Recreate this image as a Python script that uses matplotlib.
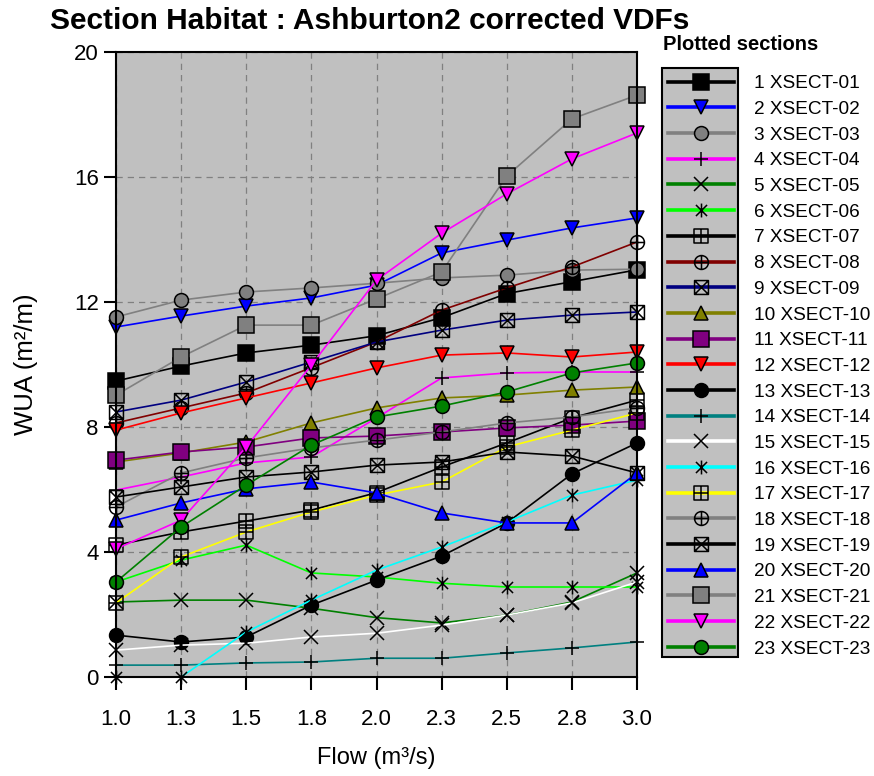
import matplotlib
matplotlib.use('Agg')
import matplotlib.pyplot as plt
from matplotlib.path import Path
from matplotlib.patches import Rectangle

plt.rcParams['font.family'] = ['Liberation Sans', 'DejaVu Sans']

# flows (m3/s) and the one-decimal labels shown on the axis
flow = [1.0, 1.25, 1.5, 1.75, 2.0, 2.25, 2.5, 2.75, 3.0]
flow_labels = ['1.0', '1.3', '1.5', '1.8', '2.0', '2.3', '2.5', '2.8', '3.0']

# weighted usable area (m2/m) per cross-section
xsect_01 = [9.47, 9.95, 10.37, 10.62, 10.92, 11.5, 12.27, 12.65, 13.03]
xsect_02 = [11.2, 11.55, 11.87, 12.13, 12.54, 13.57, 13.98, 14.37, 14.69]
xsect_03 = [11.52, 12.06, 12.32, 12.45, 12.6, 12.77, 12.86, 13.02, 13.05]
xsect_04 = [5.98, 6.4, 6.85, 7.04, 8.29, 9.57, 9.73, 9.76, 9.76]
xsect_05 = [2.4, 2.46, 2.46, 2.2, 1.9, 1.73, 1.98, 2.4, 3.33]
xsect_06 = [3.04, 3.74, 4.22, 3.33, 3.2, 3.0, 2.88, 2.88, 2.88]
xsect_07 = [4.22, 4.64, 4.99, 5.34, 5.9, 6.72, 7.49, 8.29, 8.86]
xsect_08 = [8.13, 8.61, 9.09, 9.9, 10.72, 11.74, 12.45, 13.12, 13.92]
xsect_09 = [8.48, 8.86, 9.44, 10.08, 10.72, 11.1, 11.42, 11.58, 11.68]
xsect_10 = [6.88, 7.17, 7.52, 8.13, 8.61, 8.93, 9.02, 9.18, 9.28]
xsect_11 = [6.94, 7.2, 7.36, 7.65, 7.71, 7.84, 7.97, 8.06, 8.19]
xsect_12 = [7.9, 8.45, 8.93, 9.41, 9.89, 10.3, 10.37, 10.24, 10.4]
xsect_13 = [1.34, 1.12, 1.28, 2.3, 3.1, 3.87, 4.93, 6.5, 7.49]
xsect_14 = [0.38, 0.38, 0.45, 0.48, 0.6, 0.6, 0.77, 0.93, 1.12]
xsect_15 = [0.86, 1.02, 1.08, 1.28, 1.4, 1.66, 1.98, 2.37, 3.04]
xsect_16 = [0.0, 0.0, 1.44, 2.46, 3.42, 4.16, 4.96, 5.82, 6.3]
xsect_17 = [2.37, 3.84, 4.64, 5.28, 5.82, 6.24, 7.36, 7.9, 8.45]
xsect_18 = [5.44, 6.53, 7.01, 7.33, 7.58, 7.84, 8.13, 8.32, 8.61]
xsect_19 = [5.76, 6.08, 6.4, 6.56, 6.78, 6.88, 7.2, 7.07, 6.53]
xsect_20 = [5.02, 5.57, 6.02, 6.24, 5.89, 5.25, 4.93, 4.93, 6.53]
xsect_21 = [9.02, 10.24, 11.26, 11.26, 12.1, 12.96, 16.03, 17.86, 18.62]
xsect_22 = [4.1, 5.02, 7.36, 9.98, 12.7, 14.2, 15.46, 16.58, 17.41]
xsect_23 = [3.04, 4.8, 6.14, 7.42, 8.32, 8.67, 9.12, 9.73, 10.05]

wua = [xsect_01, xsect_02, xsect_03, xsect_04, xsect_05, xsect_06, xsect_07,
       xsect_08, xsect_09, xsect_10, xsect_11, xsect_12, xsect_13, xsect_14,
       xsect_15, xsect_16, xsect_17, xsect_18, xsect_19, xsect_20, xsect_21,
       xsect_22, xsect_23]
sections = ['%d XSECT-%02d' % (i, i) for i in range(1, 24)]

# excel-like composite markers
M, L, C = Path.MOVETO, Path.LINETO, Path.CLOSEPOLY
square = Path([(-1, -1), (1, -1), (1, 1), (-1, 1), (-1, -1)], [M, L, L, L, C])
plus = Path([(-1, 0), (1, 0), (0, -1), (0, 1)], [M, L, M, L])
cross = Path([(-1, -1), (1, 1), (-1, 1), (1, -1)], [M, L, M, L])
small_cross = Path([(-.8, -.8), (.8, .8), (-.8, .8), (.8, -.8)], [M, L, M, L])
vbar = Path([(0, -1), (0, 1)], [M, L])
square_plus = Path.make_compound_path(square, plus)
square_x = Path.make_compound_path(square, cross)
circle_plus = Path.make_compound_path(Path.unit_circle(), plus)
asterisk = Path.make_compound_path(small_cross, vbar)

# (line colour, marker, marker face) for each section
styles = [
    ('black', 's', 'black'),
    ('#0000ff', 'v', '#0000ff'),
    ('#808080', 'o', '#808080'),
    ('#ff00ff', '+', 'none'),
    ('#008000', 'x', 'none'),
    ('#00ff00', asterisk, 'none'),
    ('black', square_plus, 'none'),
    ('#800000', circle_plus, 'none'),
    ('#000080', square_x, 'none'),
    ('#808000', '^', '#808000'),
    ('#800080', 's', '#800080'),
    ('#ff0000', 'v', '#ff0000'),
    ('black', 'o', 'black'),
    ('#008080', '+', 'none'),
    ('white', 'x', 'none'),
    ('#00ffff', asterisk, 'none'),
    ('#ffff00', square_plus, 'none'),
    ('#808080', circle_plus, 'none'),
    ('black', square_x, 'none'),
    ('#0000ff', '^', '#0000ff'),
    ('#808080', 's', '#808080'),
    ('#ff00ff', 'v', '#ff00ff'),
    ('#008000', 'o', '#008000'),
]

fig = plt.figure(figsize=(8.74, 7.76), dpi=100)
ax = fig.add_axes([116 / 874, 99 / 776, 521 / 874, 625 / 776])
ax.set_facecolor('#c0c0c0')

handles = []
for values, label, (color, marker, face) in zip(wua, sections, styles):
    size = 11 if marker == 's' else 10
    line, = ax.plot(flow, values, color=color, lw=1.2, marker=marker,
                    markersize=size, markerfacecolor=face,
                    markeredgecolor='black', markeredgewidth=1.1,
                    label=label, clip_on=False)
    handles.append(line)

ax.set_xlim(1.0, 3.0)
ax.set_ylim(0, 20)
ax.set_xticks(flow)
ax.set_xticklabels(flow_labels)
ax.set_yticks([0, 4, 8, 12, 16, 20])
ax.tick_params(axis='both', direction='out', length=9, width=1.5,
               labelsize=16, color='black')
ax.tick_params(axis='x', pad=14)
ax.grid(True, color='#808080', linestyle=(0, (5, 4)), linewidth=0.9)
ax.set_axisbelow(True)
for spine in ax.spines.values():
    spine.set_linewidth(1.5)

ax.set_xlabel('Flow (m³/s)', fontsize=17, labelpad=12)
ax.set_ylabel('WUA (m²/m)', fontsize=18.5)
ax.yaxis.set_label_coords(-0.150, 0.5)

fig.text(50 / 874, 1 - 21 / 776, 'Section Habitat : Ashburton2 corrected VDFs',
         fontsize=21.5, fontweight='bold', va='center', ha='left')
fig.text(663 / 874, 1 - 44 / 776, 'Plotted sections', fontsize=14.5,
         fontweight='bold', va='center', ha='left')

# grey box behind the legend keys, labels sit outside it
fig.patches.append(Rectangle((662 / 874, 1 - 657 / 776), 76 / 874, 589 / 776,
                             transform=fig.transFigure, facecolor='#c0c0c0',
                             edgecolor='black', linewidth=1.5, zorder=1))

leg = fig.legend(handles=handles, loc='upper left',
                 bbox_to_anchor=(668 / 874, 1 - 75 / 776), frameon=False,
                 fontsize=13.7, numpoints=1, handlelength=3.45,
                 handletextpad=1.05, labelspacing=0.44, borderpad=0,
                 borderaxespad=0)
for h in leg.legend_handles:
    h.set_linewidth(2.6)

fig.savefig('out.png', dpi=100)
